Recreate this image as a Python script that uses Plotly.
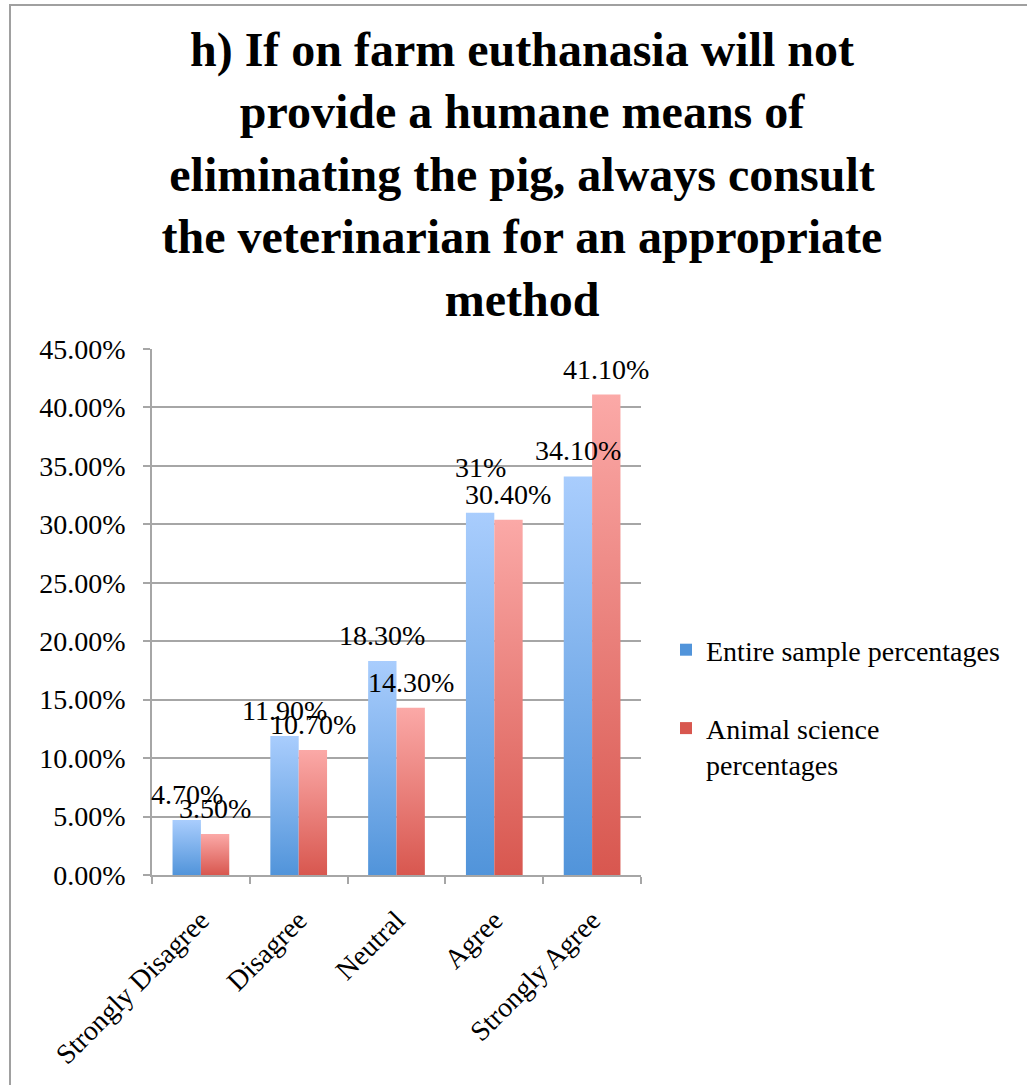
import plotly.graph_objects as go

# Survey responses
categories = ["Strongly Disagree", "Disagree", "Neutral", "Agree", "Strongly Agree"]
entire_sample = [0.047, 0.119, 0.183, 0.31, 0.341]
animal_science = [0.035, 0.107, 0.143, 0.304, 0.411]
entire_labels = ["4.70%", "11.90%", "18.30%", "31%", "34.10%"]
animal_labels = ["3.50%", "10.70%", "14.30%", "30.40%", "41.10%"]
series_names = ["Entire sample percentages", "Animal science<br>percentages"]

TITLE = ("h) If on farm euthanasia will not<br>provide a humane means of<br>"
         "eliminating the pig, always consult<br>the veterinarian for an appropriate<br>method")

FONT = "Liberation Serif, Times New Roman, serif"
GRID = "#a6a6a6"
BLUE = ("#5194da", "#a9cdfd")   # bottom, top
RED = ("#d8574f", "#fba9a7")
BAR_W = 0.29
LABEL_SHIFT = 8                  # px gap between bar top and its label
LABEL_NUDGE = {(0, 3): 20}       # (series, category) -> extra lift in px

W, H = 1027, 1085
ML, MR, MT, MB = 152, 386, 349, 210
PW, PH = W - ML - MR, H - MT - MB

fig = go.Figure()

series = [
    (entire_sample, entire_labels, BLUE, -1),
    (animal_science, animal_labels, RED, 0),
]

for k, (vals, labels, (c_bot, c_top), side) in enumerate(series):
    for i, v in enumerate(vals):
        x0 = i + side * BAR_W
        x1 = x0 + BAR_W
        fig.add_trace(go.Scatter(
            x=[x0, x1, x1, x0, x0], y=[0, 0, v, v, 0],
            mode="lines", fill="toself", line=dict(width=0, color=c_bot),
            fillgradient=dict(type="vertical", start=0, stop=v,
                              colorscale=[[0, c_bot], [1, c_top]]),
            showlegend=False, hoverinfo="skip",
        ))
        fig.add_annotation(
            x=(x0 + x1) / 2, y=v, xref="x", yref="y", text=labels[i],
            showarrow=False, xanchor="center", yanchor="bottom",
            yshift=LABEL_SHIFT + LABEL_NUDGE.get((k, i), 0),
            font=dict(family=FONT, size=28, color="#000000"),
        )
    # legend entry
    fig.add_trace(go.Bar(
        x=[None], y=[None], name=series_names[k],
        marker=dict(color=c_bot, line=dict(width=0)),
        legendgroup=f"g{k}",
    ))

# outer frame
fig.add_shape(type="rect", xref="paper", yref="paper",
              x0=(10 - ML) / PW, x1=(W + 20 - ML) / PW,
              y0=-(H + 20 - (MT + PH)) / PH, y1=(MT + PH - 5) / PH,
              line=dict(color="#a0a0a0", width=2), fillcolor="rgba(0,0,0,0)",
              layer="below")

fig.update_layout(
    width=W, height=H,
    margin=dict(l=ML, r=MR, t=MT, b=MB, pad=0),
    paper_bgcolor="white", plot_bgcolor="white",
    font=dict(family=FONT, size=28, color="#000000"),
    title=dict(text=TITLE, x=522 / W, xanchor="center", xref="container",
               y=1 - 66 / H, yanchor="top", yref="container",
               font=dict(family=FONT, size=48, color="#000000", weight="bold")),
    showlegend=True,
    legend=dict(x=(666 - ML) / PW, xanchor="left", y=(MT + PH - 625) / PH, yanchor="top",
                font=dict(family=FONT, size=28), valign="top",
                tracegroupgap=39, bgcolor="rgba(0,0,0,0)", itemclick=False),
    xaxis=dict(range=[-0.5, len(categories) - 0.5], tickvals=list(range(len(categories))),
               ticktext=categories, tickangle=-45, ticks="", showgrid=False,
               showline=True, linecolor=GRID, linewidth=1.5, zeroline=False,
               tickfont=dict(family=FONT, size=28), ticklabelstandoff=16,
               minor=dict(ticks="outside", ticklen=7, tickcolor=GRID, tickwidth=1.5,
                          tickvals=[i - 0.5 for i in range(len(categories) + 1)],
                          showgrid=False)),
    yaxis=dict(range=[0, 0.45], dtick=0.05, tickformat=".2%", ticks="outside",
               ticklen=7, tickcolor=GRID, tickwidth=1.5,
               showgrid=True, gridcolor=GRID, gridwidth=1.5,
               showline=True, linecolor=GRID, linewidth=1.5, zeroline=False,
               tickfont=dict(family=FONT, size=28), ticklabelstandoff=12),
)

fig.write_html("out.html")
